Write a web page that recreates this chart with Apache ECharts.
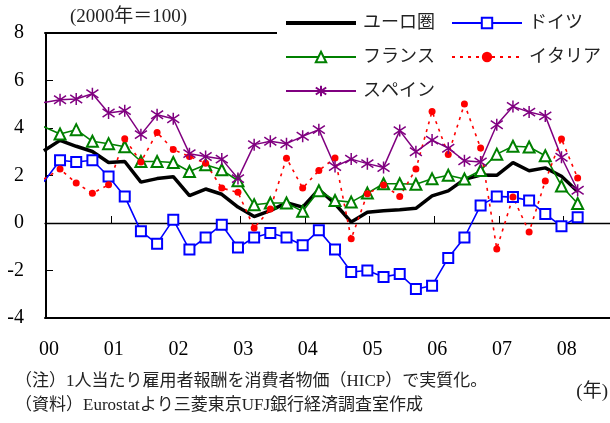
<!DOCTYPE html>
<html>
<head>
<meta charset="utf-8">
<script src="https://cdn.jsdelivr.net/npm/echarts@6/dist/echarts.min.js"></script>
<style>
  html, body { margin: 0; padding: 0; background: #fff; }
  #chart { width: 610px; height: 423px; }
</style>
</head>
<body>
<div id="chart"></div>
<script>
// Quarterly observations, 2000Q1 - 2008Q2
const quarters = [
  '00Q1','00Q2','00Q3','00Q4','01Q1','01Q2','01Q3','01Q4',
  '02Q1','02Q2','02Q3','02Q4','03Q1','03Q2','03Q3','03Q4',
  '04Q1','04Q2','04Q3','04Q4','05Q1','05Q2','05Q3','05Q4',
  '06Q1','06Q2','06Q3','06Q4','07Q1','07Q2','07Q3','07Q4',
  '08Q1','08Q2'
];
const yearLabels = ['00','01','02','03','04','05','06','07','08'];

// Real compensation per employee, % change y/y
const euroArea = [3.04,3.48,3.23,3.01,2.55,2.59,1.72,1.87,1.95,1.15,1.43,1.21,0.67,0.27,0.52,0.85,0.67,1.41,0.81,0.04,0.45,0.52,0.56,0.62,1.14,1.35,1.84,2.02,2.01,2.54,2.20,2.32,1.97,1.33];
const germany  = [1.74,2.64,2.57,2.64,1.96,1.12,-0.35,-0.87,0.14,-1.12,-0.61,-0.07,-1.03,-0.61,-0.42,-0.61,-0.94,-0.31,-1.12,-2.06,-2.00,-2.27,-2.15,-2.78,-2.64,-1.47,-0.61,0.74,1.12,1.09,0.95,0.38,-0.14,0.24];
const france   = [4.05,3.75,3.93,3.44,3.34,3.21,2.59,2.59,2.55,2.17,2.45,2.24,1.78,0.77,0.84,0.84,0.49,1.36,0.95,0.88,1.26,1.65,1.65,1.63,1.86,2.01,1.85,2.21,2.90,3.23,3.20,2.83,1.56,0.82];
const italy    = [1.85,2.27,1.68,1.25,1.61,3.55,2.57,3.81,3.09,2.80,2.52,1.47,1.29,-0.21,0.59,2.73,1.47,2.21,2.74,-0.66,1.23,1.60,1.12,2.27,4.70,2.88,5.01,3.16,-1.09,1.09,-0.38,1.77,3.54,1.89];
const spain    = [5.07,5.19,5.22,5.44,4.63,4.73,3.72,4.56,4.39,2.92,2.80,2.69,1.87,3.30,3.44,3.34,3.65,3.93,2.38,2.69,2.50,2.34,3.89,3.00,3.49,3.15,2.62,2.57,4.14,4.91,4.67,4.51,2.77,1.38];

const seriesNames = ['ユーロ圏', 'ドイツ', 'フランス', 'イタリア', 'スペイン'];

const FONT = "'Liberation Serif', 'Noto Sans CJK JP', serif";
const X_MIN = 0.07;
const X_MAX = 35;
// each year boundary sits just to the right of its Q1 observation
const YEAR_SHIFT = 0.136;
const yearTicks = yearLabels.map((_, k) => k * 4 + YEAR_SHIFT);

const toPoints = arr => arr.map((v, i) => [i, v]);

const ASTERISK = 'path://M5,0L5,10M0.6,1.6L9.4,8.4M0.6,8.4L9.4,1.6';

const chart = echarts.init(document.getElementById('chart'), null, { renderer: 'canvas' });

const hiddenAxis = {
  type: 'value', min: X_MIN, max: X_MAX,
  axisTick: { show: false }, axisLabel: { show: false }, splitLine: { show: false }
};

chart.setOption({
  animation: false,
  backgroundColor: '#fff',
  grid: { left: 45, right: 0, top: 33, bottom: 105 },
  legend: {
    left: 277,
    top: 0,
    width: 330,
    padding: [14, 21, 0, 8],
    itemWidth: 70,
    itemHeight: 13,
    itemGap: 16,
    backgroundColor: '#fff',
    textStyle: { fontFamily: FONT, fontSize: 18, color: '#222', padding: [0, 0, 0, 2] },
    data: [
      { name: seriesNames[0], icon: 'path://M0,0L70,0L70,4L0,4Z' },
      seriesNames[1], seriesNames[2], seriesNames[3], seriesNames[4]
    ]
  },
  xAxis: [
    {
      type: 'value', min: X_MIN, max: X_MAX, position: 'bottom',
      axisLine: { onZero: false, lineStyle: { color: '#000', width: 2 } },
      axisTick: { show: false },
      splitLine: { show: false },
      axisLabel: {
        customValues: yearTicks,
        formatter: v => yearLabels[Math.round((v - YEAR_SHIFT) / 4)],
        margin: 22, color: '#000', fontFamily: FONT, fontSize: 20,
        padding: [0, 0, 0, 6]
      }
    },
    Object.assign({}, hiddenAxis, {
      position: 'bottom',
      axisLine: { onZero: true, lineStyle: { color: '#000', width: 1.3 } },
      axisTick: { show: true, inside: true, length: 7, customValues: yearTicks, lineStyle: { color: '#000', width: 1 } }
    }),
    Object.assign({}, hiddenAxis, {
      position: 'top',
      axisLine: { onZero: false, lineStyle: { color: '#000', width: 2 } }
    })
  ],
  yAxis: {
    type: 'value', min: -4, max: 8, interval: 2, offset: -1,
    axisLine: { show: true, onZero: false, lineStyle: { color: '#000', width: 2 } },
    axisTick: { show: true, inside: true, length: 7, lineStyle: { color: '#000', width: 1 } },
    axisLabel: { margin: 22, color: '#000', fontFamily: FONT, fontSize: 20 },
    splitLine: { show: false }
  },
  series: [
    {
      name: seriesNames[0], type: 'line', data: toPoints(euroArea),
      symbol: 'none', color: '#000',
      lineStyle: { color: '#000', width: 3.5 }
    },
    {
      name: seriesNames[1], type: 'line', data: toPoints(germany),
      symbol: 'emptyRect', symbolSize: 10, color: '#0000ff',
      itemStyle: { borderWidth: 1.6 },
      lineStyle: { color: '#0000ff', width: 1.6 }
    },
    {
      name: seriesNames[2], type: 'line', data: toPoints(france),
      symbol: 'emptyTriangle', symbolSize: 11, color: '#008000',
      itemStyle: { borderWidth: 1.6 },
      lineStyle: { color: '#008000', width: 1.6 }
    },
    {
      name: seriesNames[3], type: 'line', data: toPoints(italy),
      symbol: 'circle', symbolSize: 7, color: '#ff0000',
      lineStyle: { color: '#ff0000', width: 1.6, type: [3, 5] }
    },
    {
      name: seriesNames[4], type: 'line', data: toPoints(spain),
      symbol: ASTERISK, symbolSize: 12, color: '#800080',
      itemStyle: { color: '#800080', borderColor: '#800080', borderWidth: 1.5 },
      lineStyle: { color: '#800080', width: 1.5 }
    }
  ],
  graphic: [
    { type: 'text', x: 70, y: 17, style: { text: '(2000年＝100)', font: '19px ' + FONT, fill: '#222', verticalAlign: 'middle' } },
    { type: 'text', x: 15, y: 382, style: { text: '（注）1人当たり雇用者報酬を消費者物価（HICP）で実質化。', font: '17px ' + FONT, fill: '#222', verticalAlign: 'middle' } },
    { type: 'text', x: 15, y: 406, style: { text: '（資料）Eurostatより三菱東京UFJ銀行経済調査室作成', font: '17px ' + FONT, fill: '#222', verticalAlign: 'middle' } },
    { type: 'text', x: 608, y: 392, style: { text: '(年)', font: '19px ' + FONT, fill: '#222', align: 'right', verticalAlign: 'middle' } }
  ]
});
</script>
</body>
</html>
